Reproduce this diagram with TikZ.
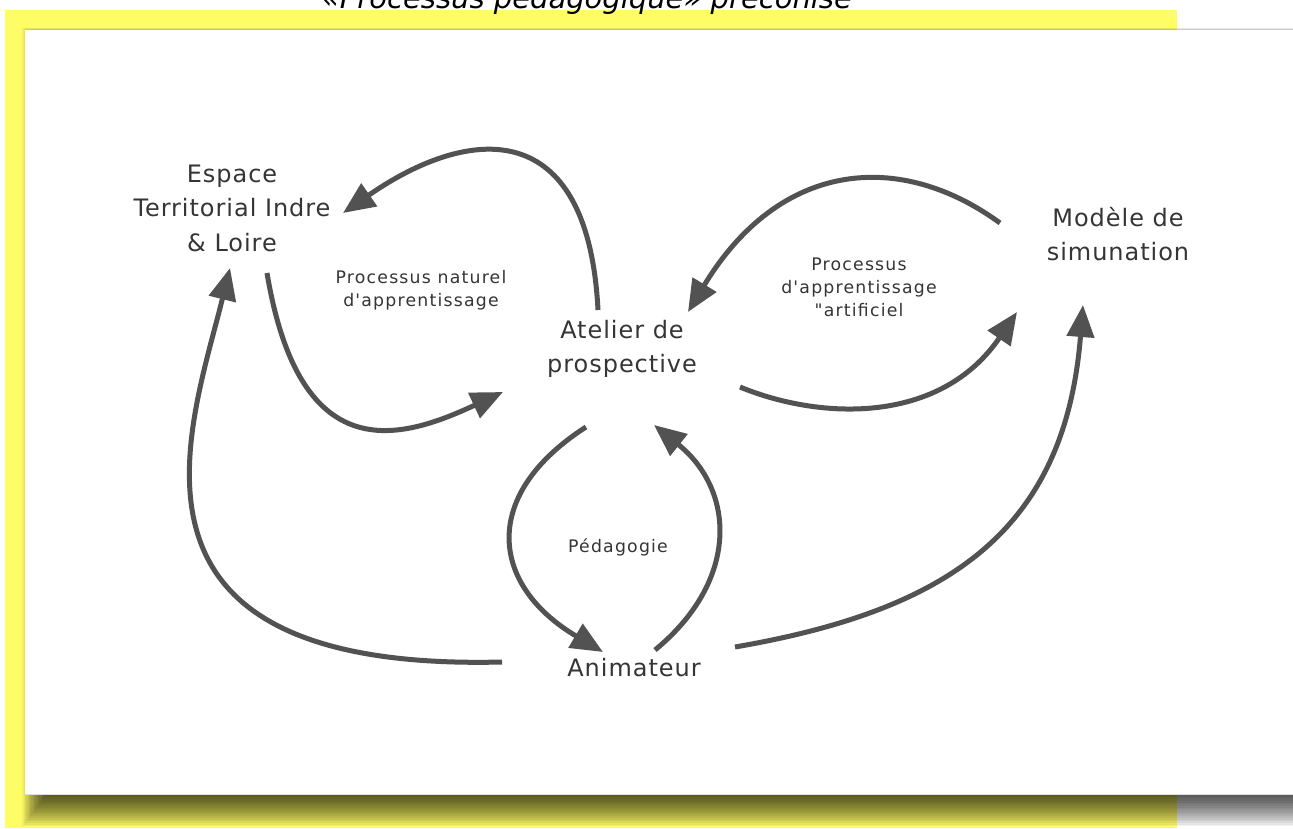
\documentclass[tikz,border=0pt]{standalone}
\usepackage{fontspec}
\usetikzlibrary{arrows.meta}
\newfontfamily\nodefont[LetterSpace=4,Ligatures=TeXOff]{DejaVu Sans}
\newfontfamily\labelfont[LetterSpace=7,Ligatures=TeXOff]{DejaVu Sans}
\newfontfamily\titlefont{DejaVu Sans Oblique}
\definecolor{paneyellow}{HTML}{FFFD66}
\definecolor{ink}{HTML}{353535}
\definecolor{arrowgray}{HTML}{525252}

\begin{document}
\begin{tikzpicture}[x=1pt,y=-1pt,
  concept/.style={font=\nodefont\fontsize{24}{34.5}\selectfont, text=ink, align=center, inner sep=0pt},
  caption/.style={font=\labelfont\fontsize{17.3}{23}\selectfont, text=ink, align=center, inner sep=0pt},
  flow/.style={draw=arrowgray, line width=5pt, -{Triangle[length=32pt,width=27pt]}}]

\useasboundingbox (0,0) rectangle (1293,828);
\clip (0,0) rectangle (1293,828);

% page, yellow frame, soft drop shadow and white sheet
\fill[white] (0,0) rectangle (1293,828);
\fill[paneyellow] (5,10) rectangle (1177,828);
\foreach \i in {1,...,20}
  \fill[black,opacity=0.05] ({21+1.3*\i},{27+0.5*\i}) rectangle (1320,{828-1.7*\i});
\fill[white] (25,30) rectangle (1300,794);
\draw[black!12, line width=0.8pt] (25,794) -- (1293,794);

% concepts
\node[concept] (esp) at (232,208) {Espace\\Territorial Indre\\\& Loire};
\node[concept] (atl) at (622,349) {Atelier de\\prospective};
\node[concept] (mod) at (1118,234) {Modèle de\\simunation};
\node[concept] (ani) at (634,668) {Animateur};

% process labels
\node[caption] (nat) at (421,290) {Processus naturel\\d'apprentissage};
\node[caption] (art) at (859,287) {Processus\\d'apprentissage\\"artificiel};
\node[caption] (ped) at (618,547) {Pédagogie};

% flows
\draw[flow] ([shift={(-24,-39)}]atl.center) .. controls (588,115) and (470,125) .. ([shift={(111,5)}]esp.center);
\draw[flow] ([shift={(35,65)}]esp.center) .. controls (300,470) and (400,440) .. ([shift={(-119,43)}]atl.center);
\draw[flow] ([shift={(-118,-11)}]mod.center) .. controls (900,150) and (780,160) .. ([shift={(66,-37)}]atl.center);
\draw[flow] ([shift={(118,38)}]atl.center) .. controls (820,420) and (940,425) .. ([shift={(-101,78)}]mod.center);
\draw[flow] ([shift={(-36,78)}]atl.center) .. controls (480,495) and (490,585) .. ([shift={(-31,-16)}]ani.center);
\draw[flow] ([shift={(21,-18)}]ani.center) .. controls (740,580) and (735,490) .. ([shift={(32,76)}]atl.center);
\draw[flow] ([shift={(-132,-6)}]ani.center) .. controls (95,672) and (190,430) .. ([shift={(-2,60)}]esp.center);
\draw[flow] ([shift={(101,-21)}]ani.center) .. controls (950,610) and (1065,530) .. ([shift={(-35,71)}]mod.center);

% heading, cut by the top edge
\node[anchor=base, inner sep=0pt, font=\titlefont\fontsize{29}{34}\selectfont] (title) at (587,8) {«Processus pédagogique» préconisé};
\end{tikzpicture}
\end{document}
